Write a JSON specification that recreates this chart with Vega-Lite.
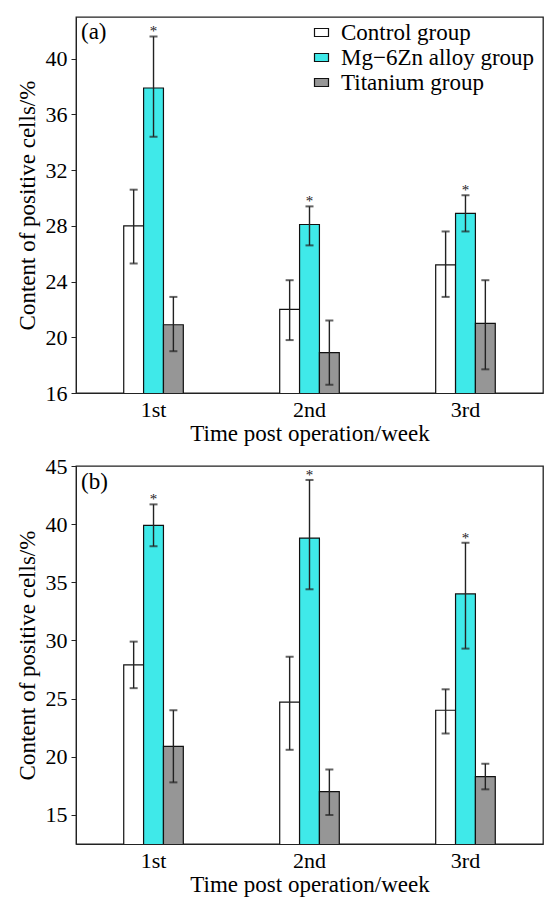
{
  "$schema": "https://vega.github.io/schema/vega-lite/v6.json",
  "padding": {"left": 15, "top": 16, "right": 0, "bottom": 0},
  "bounds": "flush",
  "spacing": 73,
  "config": {
    "font": "Liberation Serif",
    "view": {"stroke": "#222", "strokeWidth": 1.3},
    "axis": {
      "labelFont": "Liberation Serif", "titleFont": "Liberation Serif",
      "labelFontSize": 22, "titleFontSize": 23, "labelColor": "#000", "titleColor": "#000",
      "titleFontWeight": "normal", "domainColor": "#222", "tickColor": "#222",
      "grid": false
    },
    "legend": {"labelFont": "Liberation Serif", "labelFontSize": 23, "labelColor": "#000", "labelLimit": 400}
  },
  "datasets": {
    "a": [
      {"week": "1st", "group": "Control group", "value": 28.0, "lo": 25.3, "hi": 30.6, "star": ""},
      {"week": "1st", "group": "Mg\u22126Zn alloy group", "value": 37.9, "lo": 34.4, "hi": 41.6, "star": "*"},
      {"week": "1st", "group": "Titanium group", "value": 20.9, "lo": 19.0, "hi": 22.9, "star": ""},
      {"week": "2nd", "group": "Control group", "value": 22.0, "lo": 19.8, "hi": 24.1, "star": ""},
      {"week": "2nd", "group": "Mg\u22126Zn alloy group", "value": 28.1, "lo": 26.6, "hi": 29.4, "star": "*"},
      {"week": "2nd", "group": "Titanium group", "value": 18.9, "lo": 16.6, "hi": 21.2, "star": ""},
      {"week": "3rd", "group": "Control group", "value": 25.2, "lo": 22.9, "hi": 27.6, "star": ""},
      {"week": "3rd", "group": "Mg\u22126Zn alloy group", "value": 28.9, "lo": 27.6, "hi": 30.2, "star": "*"},
      {"week": "3rd", "group": "Titanium group", "value": 21.0, "lo": 17.7, "hi": 24.1, "star": ""}
    ],
    "b": [
      {"week": "1st", "group": "Control group", "value": 27.9, "lo": 25.9, "hi": 29.9, "star": ""},
      {"week": "1st", "group": "Mg\u22126Zn alloy group", "value": 39.9, "lo": 38.1, "hi": 41.7, "star": "*"},
      {"week": "1st", "group": "Titanium group", "value": 20.9, "lo": 17.8, "hi": 24.0, "star": ""},
      {"week": "2nd", "group": "Control group", "value": 24.7, "lo": 20.6, "hi": 28.6, "star": ""},
      {"week": "2nd", "group": "Mg\u22126Zn alloy group", "value": 38.8, "lo": 34.4, "hi": 43.8, "star": "*"},
      {"week": "2nd", "group": "Titanium group", "value": 17.0, "lo": 15.0, "hi": 18.9, "star": ""},
      {"week": "3rd", "group": "Control group", "value": 24.0, "lo": 22.0, "hi": 25.8, "star": ""},
      {"week": "3rd", "group": "Mg\u22126Zn alloy group", "value": 34.0, "lo": 29.3, "hi": 38.4, "star": "*"},
      {"week": "3rd", "group": "Titanium group", "value": 18.3, "lo": 17.2, "hi": 19.4, "star": ""}
    ]
  },
  "resolve": {"scale": {"color": "independent", "y": "independent"}, "legend": {"color": "independent"}},
  "vconcat": [
    {
      "width": 467, "height": 376,
      "data": {"name": "a"},
      "title": {"text": "(a)", "anchor": "start", "frame": "group", "orient": "top", "offset": -27, "dx": 5, "fontSize": 23, "fontWeight": "normal", "font": "Liberation Serif", "color": "#000"},
      "encoding": {
        "x": {"field": "week", "type": "nominal", "sort": null,
              "scale": {"paddingInner": 0.618, "paddingOuter": 0.306},
              "axis": {"title": "Time post operation/week", "labelAngle": 0, "ticks": false, "labelPadding": 6, "titlePadding": 2}},
        "xOffset": {"field": "group", "type": "nominal", "sort": null, "scale": {"paddingInner": 0, "paddingOuter": 0}}
      },
      "layer": [
        {
          "mark": {"type": "bar", "stroke": "#111", "strokeWidth": 1.2, "clip": true},
          "encoding": {
            "y": {"field": "value", "type": "quantitative", "scale": {"domain": [16, 43], "nice": false, "zero": false},
                  "axis": {"title": "Content of positive cells/%", "values": [16, 20, 24, 28, 32, 36, 40], "tickSize": 5, "labelPadding": 4, "titlePadding": 6}},
            "fill": {"field": "group", "type": "nominal", "sort": null,
                     "scale": {"domain": ["Control group", "Mg\u22126Zn alloy group", "Titanium group"], "range": ["#ffffff", "#3fe9e9", "#969696"]},
                     "legend": {"title": null, "orient": "none", "legendX": 234, "legendY": 4, "symbolType": "M-1,-0.57H1V0.57H-1Z", "symbolSize": 196, "symbolStrokeColor": "#111", "symbolStrokeWidth": 1.2, "labelOffset": 8, "rowPadding": 1}}
          }
        },
        {
          "mark": {"type": "rule", "color": "#222", "strokeWidth": 1.4},
          "encoding": {"y": {"field": "lo", "type": "quantitative"}, "y2": {"field": "hi"}}
        },
        {
          "mark": {"type": "tick", "color": "#222", "size": 8, "thickness": 2},
          "encoding": {"y": {"field": "lo", "type": "quantitative"}}
        },
        {
          "mark": {"type": "tick", "color": "#222", "size": 8, "thickness": 2},
          "encoding": {"y": {"field": "hi", "type": "quantitative"}}
        },
        {
          "mark": {"type": "text", "fontSize": 15, "baseline": "bottom", "dy": 3, "color": "#222"},
          "encoding": {"y": {"field": "hi", "type": "quantitative"}, "text": {"field": "star"}}
        }
      ]
    },
    {
      "width": 467, "height": 378,
      "data": {"name": "b"},
      "title": {"text": "(b)", "anchor": "start", "frame": "group", "orient": "top", "offset": -39, "dx": 5, "fontSize": 23, "fontWeight": "normal", "font": "Liberation Serif", "color": "#000"},
      "encoding": {
        "x": {"field": "week", "type": "nominal", "sort": null,
              "scale": {"paddingInner": 0.618, "paddingOuter": 0.306},
              "axis": {"title": "Time post operation/week", "labelAngle": 0, "ticks": false, "labelPadding": 6, "titlePadding": 2}},
        "xOffset": {"field": "group", "type": "nominal", "sort": null, "scale": {"paddingInner": 0, "paddingOuter": 0}}
      },
      "layer": [
        {
          "mark": {"type": "bar", "stroke": "#111", "strokeWidth": 1.2, "clip": true},
          "encoding": {
            "y": {"field": "value", "type": "quantitative", "scale": {"domain": [12.5, 45], "nice": false, "zero": false},
                  "axis": {"title": "Content of positive cells/%", "values": [15, 20, 25, 30, 35, 40, 45], "tickSize": 5, "labelPadding": 4, "titlePadding": 6}},
            "fill": {"field": "group", "type": "nominal", "sort": null,
                     "scale": {"domain": ["Control group", "Mg\u22126Zn alloy group", "Titanium group"], "range": ["#ffffff", "#3fe9e9", "#969696"]},
                     "legend": {"title": null, "orient": "none", "legendX": 245, "legendY": 1, "symbolType": "M-1,-0.57H1V0.57H-1Z", "symbolSize": 196, "symbolStrokeColor": "#111", "symbolStrokeWidth": 1.2, "labelOffset": 6, "rowPadding": 0}}
          }
        },
        {
          "mark": {"type": "rule", "color": "#222", "strokeWidth": 1.4},
          "encoding": {"y": {"field": "lo", "type": "quantitative"}, "y2": {"field": "hi"}}
        },
        {
          "mark": {"type": "tick", "color": "#222", "size": 8, "thickness": 2},
          "encoding": {"y": {"field": "lo", "type": "quantitative"}}
        },
        {
          "mark": {"type": "tick", "color": "#222", "size": 8, "thickness": 2},
          "encoding": {"y": {"field": "hi", "type": "quantitative"}}
        },
        {
          "mark": {"type": "text", "fontSize": 15, "baseline": "bottom", "dy": 3, "color": "#222"},
          "encoding": {"y": {"field": "hi", "type": "quantitative"}, "text": {"field": "star"}}
        }
      ]
    }
  ]
}
